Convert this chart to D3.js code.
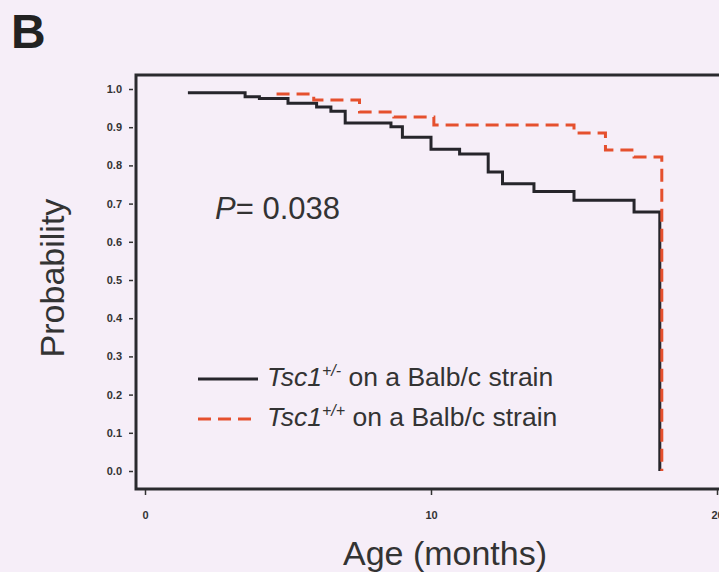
<!DOCTYPE html>
<html>
<head>
<meta charset="utf-8">
<script src="https://cdn.jsdelivr.net/npm/d3@7"></script>
<style>
  body { margin: 0; background: #f6eef8; }
  svg { display: block; font-family: "Liberation Sans", Arial, sans-serif; }
  .y-axis text, .x-axis text { font-weight: bold; fill: #333; }
</style>
</head>
<body>
<div id="plot"></div>
<script>
const width = 719;
const height = 572;

// Kaplan-Meier steps (months, survival probability)
const hetTimes = [1.5, 3.5, 4.0, 5.0, 6.0, 6.5, 7.0, 8.6, 9.0, 10.0, 11.0, 12.0, 12.5, 13.6, 15.0, 17.1, 18.0];
const hetSurv  = [0.99, 0.98, 0.975, 0.963, 0.953, 0.942, 0.911, 0.901, 0.874, 0.842, 0.830, 0.783, 0.752, 0.732, 0.709, 0.678, 0.0];

const wtTimes = [4.6, 5.9, 7.5, 8.7, 10.1, 15.0, 16.1, 17.1, 18.07];
const wtSurv  = [0.987, 0.971, 0.940, 0.927, 0.906, 0.885, 0.840, 0.822, 0.0];

const yTicks = [0, 0.1, 0.2, 0.3, 0.4, 0.5, 0.6, 0.7, 0.8, 0.9, 1.0];
const xTicks = [0, 10, 20];

const frame = {left: 136, top: 75, bottom: 489};

const svg = d3.select("#plot")
  .append("svg")
  .attr("width", width)
  .attr("height", height);

const x = d3.scaleLinear().domain([0, 20]).range([145, 717]);
const y = d3.scaleLinear().domain([0, 1]).range([471, 89]);

// panel letter
svg.append("text")
  .attr("x", 11)
  .attr("y", 48)
  .attr("font-size", 48)
  .attr("font-weight", "bold")
  .attr("fill", "#222")
  .text("B");

// frame (right side runs off the picture)
svg.append("path")
  .attr("d", `M${width + 10},${frame.top}H${frame.left}V${frame.bottom}H${width + 10}`)
  .attr("fill", "none")
  .attr("stroke", "#2a2a2e")
  .attr("stroke-width", 3);

const yAxis = d3.axisLeft(y).tickValues(yTicks).tickFormat(d3.format(".1f")).tickSize(4).tickPadding(7);
svg.append("g")
  .attr("class", "y-axis")
  .attr("transform", "translate(133,0)")
  .call(yAxis)
  .call(g => g.select(".domain").remove())
  .call(g => g.selectAll("text").attr("font-size", 11))
  .call(g => g.selectAll("line").attr("stroke", "#333").attr("stroke-width", 1.5));

const xAxis = d3.axisBottom(x).tickValues(xTicks).tickSize(5).tickPadding(16);
svg.append("g")
  .attr("class", "x-axis")
  .attr("transform", `translate(0,${frame.bottom + 1})`)
  .call(xAxis)
  .call(g => g.select(".domain").remove())
  .call(g => g.selectAll("text").attr("font-size", 11))
  .call(g => g.selectAll("line").attr("stroke", "#333").attr("stroke-width", 1.5));

// axis titles
svg.append("text")
  .attr("text-anchor", "middle")
  .attr("transform", "translate(64,278) rotate(-90)")
  .attr("font-size", 34)
  .attr("fill", "#333")
  .text("Probability");

svg.append("text")
  .attr("text-anchor", "middle")
  .attr("x", 445)
  .attr("y", 565)
  .attr("font-size", 34)
  .attr("fill", "#333")
  .text("Age (months)");

// curves
const line = d3.line()
  .x(d => x(d[0]))
  .y(d => y(d[1]))
  .curve(d3.curveStepAfter);

svg.append("path")
  .datum(d3.zip(hetTimes, hetSurv))
  .attr("d", line)
  .attr("fill", "none")
  .attr("stroke", "#26252b")
  .attr("stroke-width", 3);

svg.append("path")
  .datum(d3.zip(wtTimes, wtSurv))
  .attr("d", line)
  .attr("fill", "none")
  .attr("stroke", "#e5502e")
  .attr("stroke-width", 3)
  .attr("stroke-dasharray", "13,7");

// P value
const pText = svg.append("text")
  .attr("x", 215)
  .attr("y", 219)
  .attr("font-size", 31)
  .attr("fill", "#333");
pText.append("tspan").attr("font-style", "italic").text("P");
pText.append("tspan").text("= 0.038");

// legend
const legend = [
  {y: 386, color: "#26252b", dash: null, sup: "+/-"},
  {y: 426, color: "#e5502e", dash: "13,7", sup: "+/+"}
];

legend.forEach(d => {
  svg.append("line")
    .attr("x1", 198).attr("x2", 258)
    .attr("y1", d.y - 7).attr("y2", d.y - 7)
    .attr("stroke", d.color)
    .attr("stroke-width", 3)
    .attr("stroke-dasharray", d.dash);

  const t = svg.append("text")
    .attr("x", 267)
    .attr("y", d.y)
    .attr("font-size", 26.5)
    .attr("fill", "#333");
  t.append("tspan").attr("font-style", "italic").text("Tsc1");
  t.append("tspan").attr("font-style", "italic").attr("font-size", 16).attr("dy", -10).text(d.sup);
  t.append("tspan").attr("dy", 10).text(" on a Balb/c strain");
});
</script>
</body>
</html>
